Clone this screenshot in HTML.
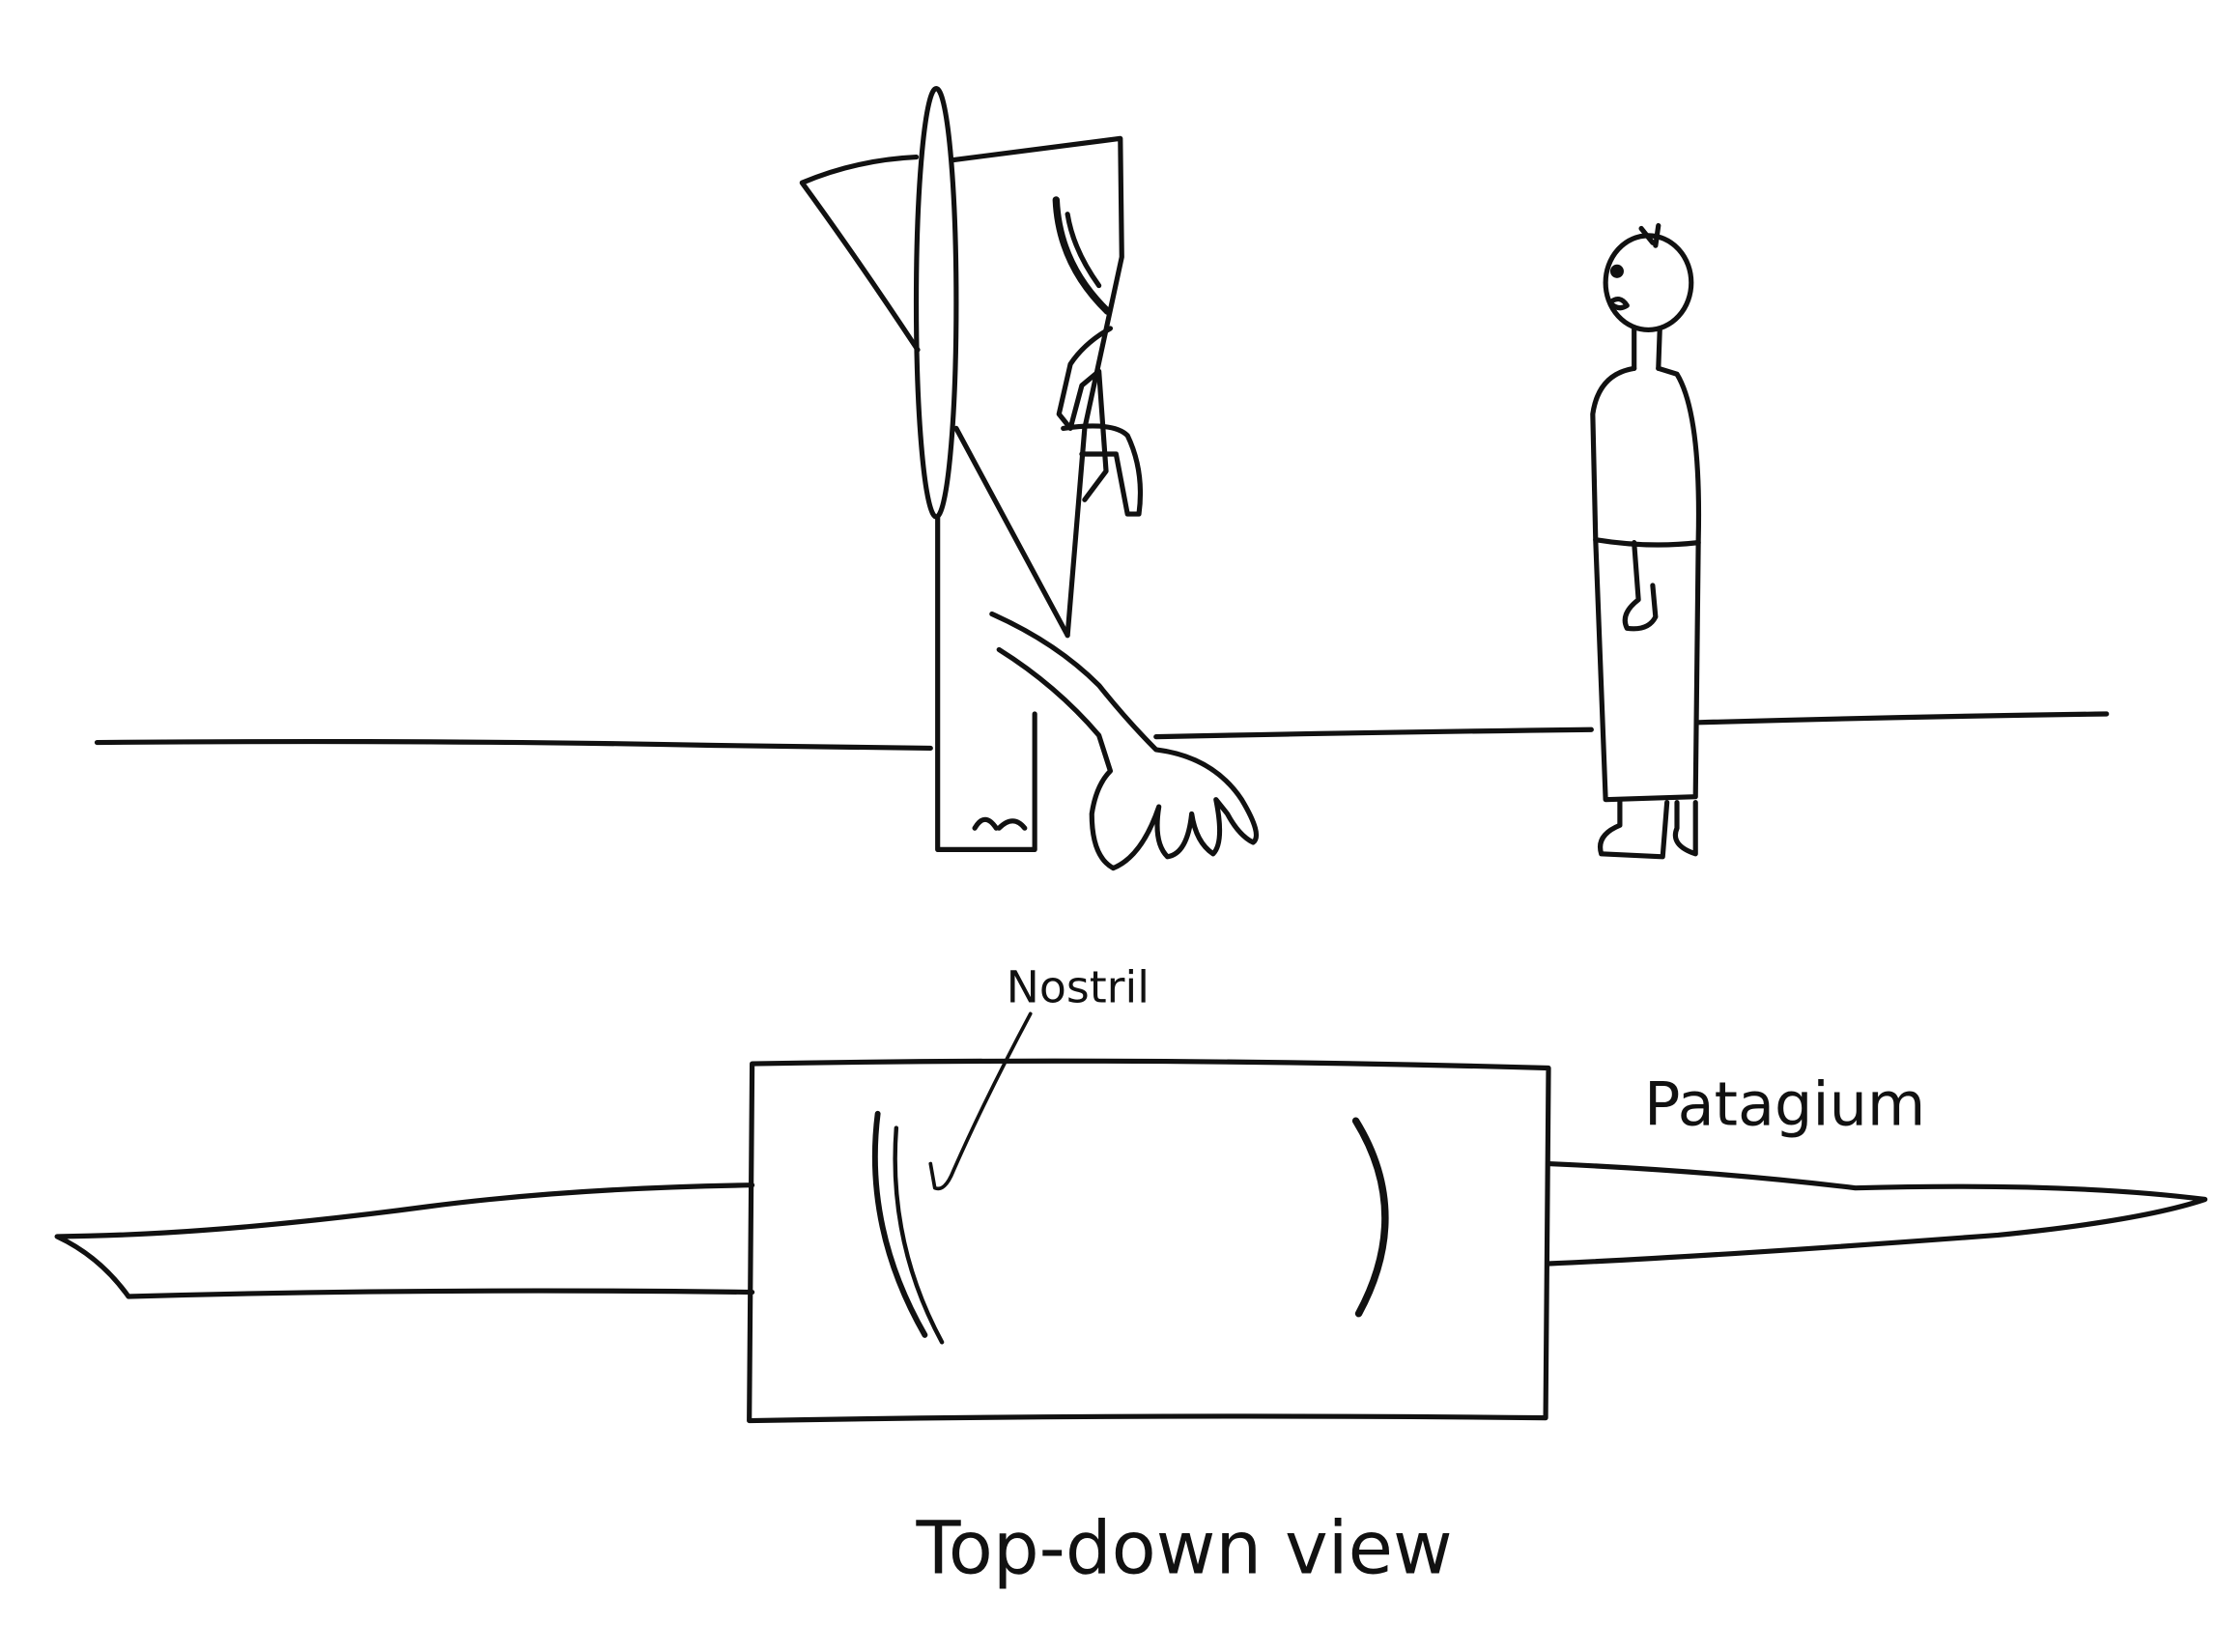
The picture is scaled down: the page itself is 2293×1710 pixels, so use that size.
<!DOCTYPE html>
<html><head><meta charset="utf-8"><style>
html,body{margin:0;padding:0;background:#fff;}
svg{display:block;}
text{font-family:"DejaVu Sans","Liberation Sans",sans-serif;fill:#111;}
</style></head><body>
<svg width="2293" height="1710" viewBox="0 0 1552 1157" preserveAspectRatio="none" xmlns="http://www.w3.org/2000/svg">
<g fill="none" stroke="#111" stroke-width="3.5" stroke-linecap="round" stroke-linejoin="round">
<path d="M68 520 Q300 518 500 522 L652 524"/>
<path d="M810 516 Q950 513 1115 511"/>
<path d="M1190 506 Q1330 502 1476 500"/>
<ellipse cx="656" cy="212" rx="14" ry="150"/>
<path d="M668 112 L785 97 L786 180 L760 300 L748 445"/>
<path d="M642 110 Q600 112 562 128 Q600 180 643 245"/>
<path d="M670 300 L748 445"/>
<path d="M740 140 Q742 185 776 218" stroke-width="5"/>
<path d="M748 150 Q752 175 770 200"/>
<path d="M778 230 Q760 240 750 255 L742 290 L750 300 L758 270 L770 260 L775 330 L760 350"/>
<path d="M745 300 Q780 295 790 305 Q802 330 798 360 L790 360 L782 318 L758 318"/>
<path d="M657 362 L657 595 L725 595 L725 500"/>
<path d="M683 580 Q690 568 698 580 M700 580 Q710 570 718 580"/>
<path d="M695 430 Q740 450 770 480 Q790 505 810 525 Q850 530 870 560 Q885 585 878 590 Q868 585 860 570 L852 560 Q858 590 850 598 Q838 590 835 570 Q832 598 818 600 Q808 590 812 565 Q800 600 780 608 Q765 600 765 570 Q768 550 778 540 L770 515 Q740 480 700 455"/>
<ellipse cx="1155" cy="198" rx="30" ry="33"/>
<path d="M1150 160 L1158 170 M1162 158 L1160 172"/>
<circle cx="1133" cy="190" r="3" fill="#111"/>
<path d="M1128 212 Q1135 206 1140 214 Q1134 218 1128 212"/>
<path d="M1145 230 L1145 258 M1163 230 L1162 258"/>
<path d="M1145 258 Q1120 262 1116 290 L1118 378 L1125 560 L1188 558 L1190 378 Q1192 290 1175 262 L1162 258"/>
<path d="M1118 378 Q1155 384 1190 380"/>
<path d="M1145 380 L1148 420 Q1135 430 1140 440 Q1155 442 1160 432 L1158 410"/>
<path d="M1135 560 L1135 578 Q1118 585 1122 598 L1165 600 L1168 562 M1175 562 L1175 580 Q1170 592 1188 598 L1188 562"/>
<path d="M527 745 Q800 740 1085 748 L1083 993 Q800 990 525 995 Z"/>
<path d="M527 830 Q400 832 300 845 Q150 865 40 866 Q70 880 90 908 Q300 902 527 905"/>
<path d="M1085 815 Q1200 820 1300 832 Q1450 828 1545 840 Q1500 855 1400 865 Q1200 880 1085 885"/>
<path d="M615 780 Q605 860 648 935" stroke-width="4"/>
<path d="M628 790 Q622 870 660 940" stroke-width="3"/>
<path d="M950 785 Q990 850 952 920" stroke-width="5"/>
<path d="M722 710 Q690 770 668 820 Q662 835 655 832 L652 815" stroke-width="2.5"/>
</g>
<text x="705" y="702" font-size="31">Nostril</text>
<text x="1152" y="788" font-size="42">Patagium</text>
<text x="642" y="1102" font-size="51">Top-down view</text>
</svg>
</body></html>
